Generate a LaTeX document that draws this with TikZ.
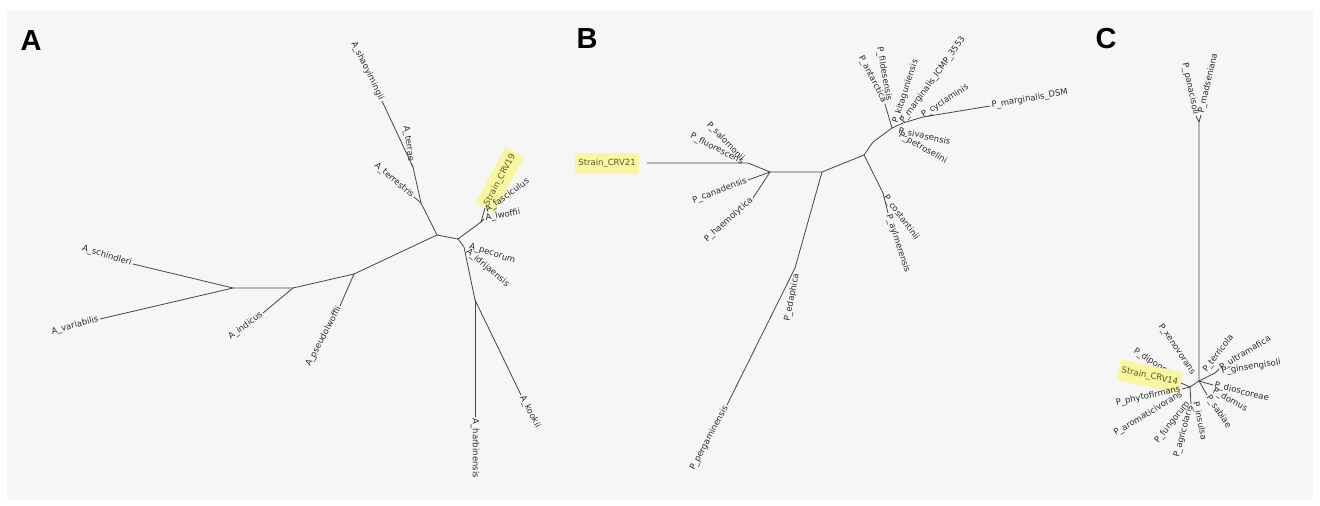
\documentclass[tikz,border=0pt]{standalone}
\usepackage{fontspec}
\setmainfont{DejaVu Sans}
\newfontfamily\panelfont{Liberation Sans}
\usepackage{tikz}
\definecolor{ink}{HTML}{2B2B2B}
\definecolor{branchc}{HTML}{454545}
\definecolor{softbg}{HTML}{F6F6F6}
\definecolor{hilite}{HTML}{F8F6A0}
\definecolor{olive}{HTML}{5C5A22}
\usetikzlibrary{positioning}
\tikzset{
  every picture/.style={line cap=round, line join=round},
  branch/.style={line width=0.8pt, draw=branchc},
  leaf/.style={font=\fontsize{8.5}{9}\selectfont, text=ink, inner sep=1.5pt},
  strain/.style={leaf, fill=hilite, text=olive, minimum height=21pt, inner xsep=3pt},
  panel/.style={font=\panelfont\bfseries\fontsize{29}{30}\selectfont, text=black, inner sep=0pt}
}

\begin{document}
\begin{tikzpicture}[x=1pt, y=-1pt]
  \useasboundingbox (0,0) rectangle (1320,506);
  \fill[softbg] (7,10) rectangle (1313,500);

  % Panel letters
  \node[panel] (pA) at (31,41) {A};
  \node[panel] (pB) at (587,39) {B};
  \node[panel] (pC) at (1106,39) {C};

  % Panel A: junctions
  \coordinate (aJ1) at (437,235);
  \coordinate (aJ2) at (458,239);
  \coordinate (aJ3) at (464,247);
  \coordinate (aJ4) at (475,300);
  \coordinate (aJ5) at (233,288);
  \coordinate (aJ6) at (293,288);
  \coordinate (aJ7) at (354,274);
  \coordinate (aJ8) at (421,203);
  \coordinate (aJ9) at (413,167);
  \coordinate (aJ10) at (481,222);
  % Panel A: tips
  \coordinate (tSchind) at (133,264);
  \coordinate (tVar) at (100,319);
  \coordinate (tInd) at (263,313);
  \coordinate (tPseudo) at (340,306);
  \coordinate (tShao) at (382,101);
  \coordinate (tTerrae) at (411,163);
  \coordinate (tTerrest) at (414,197);
  \coordinate (tCRV19) at (485,208);
  \coordinate (tFasc) at (485,212);
  \coordinate (tLwof) at (484,219);
  \coordinate (tPec) at (468,246);
  \coordinate (tIdr) at (466,250);
  \coordinate (tHarb) at (475,417);
  \coordinate (tKook) at (521,395);

  \draw[branch] (tSchind) -- (aJ5) -- (tVar);
  \draw[branch] (aJ5) -- (aJ6) -- (aJ7) -- (aJ1) -- (aJ2) -- (aJ3) -- (aJ4);
  \draw[branch] (aJ6) -- (tInd);
  \draw[branch] (aJ7) -- (tPseudo);
  \draw[branch] (aJ1) -- (aJ8) -- (aJ9) -- (tShao);
  \draw[branch] (aJ8) -- (tTerrest);
  \draw[branch] (aJ9) -- (tTerrae);
  \draw[branch] (aJ2) -- (aJ10) -- (tCRV19);
  \draw[branch] (aJ10) -- (tLwof);
  \draw[branch] (aJ4) -- (tHarb);
  \draw[branch] (aJ4) -- (tKook);

  \node[leaf, rotate=-17, anchor=east] (lSchind) at (tSchind) {A\_schindleri};
  \node[leaf, rotate=15, anchor=east] (lVar) at (tVar) {A\_variabilis};
  \node[leaf, rotate=37, anchor=east] (lInd) at (tInd) {A\_indicus};
  \node[leaf, rotate=62, anchor=east] (lPseudo) at (tPseudo) {A\_pseudolwoffii};
  \node[leaf, rotate=-64, anchor=east] (lShao) at (tShao) {A\_shaoyimingii};
  \node[leaf, rotate=-82, anchor=east] (lTerrae) at (tTerrae) {A\_terrae};
  \node[leaf, rotate=-40, anchor=east] (lTerrest) at (tTerrest) {A\_terrestris};
  \node[strain, rotate=62, anchor=west] (lCRV19) at (tCRV19) {Strain\_CRV19};
  \node[leaf, rotate=36, anchor=west] (lFasc) at (tFasc) {A\_fasciculus};
  \node[leaf, rotate=11, anchor=west] (lLwof) at (tLwof) {A\_lwoffii};
  \node[leaf, rotate=-18, anchor=west] (lPec) at (tPec) {A\_pecorum};
  \node[leaf, rotate=-40, anchor=west] (lIdr) at (tIdr) {A\_idrijaensis};
  \node[leaf, rotate=-90, anchor=west] (lHarb) at (tHarb) {A\_harbinensis};
  \node[leaf, rotate=-62, anchor=west] (lKook) at (tKook) {A\_kookii};

  % Panel B: junctions
  \coordinate (bJ0) at (748,163);
  \coordinate (bJ1) at (770,172);
  \coordinate (bJ2) at (822,172);
  \coordinate (bJ3) at (864,155);
  \coordinate (bJbend) at (873,142);
  \coordinate (bJ4) at (892,128);
  \coordinate (bJ5) at (795,268);
  \coordinate (bJ6) at (883,193);
  \coordinate (bJ7) at (903,123);
  \coordinate (bJ8) at (923,117);
  % Panel B: tips
  \coordinate (tCRV21) at (647,163);
  \coordinate (tSalo) at (744,161);
  \coordinate (tFluo) at (744,163);
  \coordinate (tCana) at (748,180);
  \coordinate (tHaem) at (753,198);
  \coordinate (tEda) at (797,272);
  \coordinate (tPerg) at (727,405);
  \coordinate (tCost) at (884,195);
  \coordinate (tAylm) at (888,213);
  \coordinate (tAnt) at (885,104);
  \coordinate (tFild) at (889,102);
  \coordinate (tKita) at (895,124);
  \coordinate (tICMP) at (901,124);
  \coordinate (tCycl) at (921,117);
  \coordinate (tDSM) at (990,106);
  \coordinate (tSiva) at (897,131);
  \coordinate (tPetr) at (898,134);

  \draw[branch] (tCRV21) -- (bJ0) -- (bJ1) -- (bJ2) -- (bJ3) -- (bJbend) -- (bJ4);
  \draw[branch] (bJ1) -- (tCana);
  \draw[branch] (bJ1) -- (tHaem);
  \draw[branch] (bJ2) -- (bJ5) -- (tPerg);
  \draw[branch] (bJ3) -- (bJ6) -- (tAylm);
  \draw[branch] (bJ4) -- (tAnt);
  \draw[branch] (bJ4) -- (bJ7) -- (bJ8) -- (tDSM);

  \node[strain, anchor=east, xshift=-8pt] (lCRV21) at (tCRV21) {Strain\_CRV21};
  \node[leaf, rotate=-46, anchor=east] (lSalo) at (tSalo) {P\_salomonii};
  \node[leaf, rotate=-27, anchor=east] (lFluo) at (tFluo) {P\_fluorescens};
  \node[leaf, rotate=21, anchor=east] (lCana) at (tCana) {P\_canadensis};
  \node[leaf, rotate=42, anchor=east] (lHaem) at (tHaem) {P\_haemolytica};
  \node[leaf, rotate=79, anchor=east] (lEda) at (tEda) {P\_edaphica};
  \node[leaf, rotate=62, anchor=east] (lPerg) at (tPerg) {P\_pergaminensis};
  \node[leaf, rotate=-53, anchor=west] (lCost) at (tCost) {P\_costantinii};
  \node[leaf, rotate=-72, anchor=west] (lAylm) at (tAylm) {P\_aylmerensis};
  \node[leaf, rotate=-63, anchor=east] (lAnt) at (tAnt) {P\_antarctica};
  \node[leaf, rotate=-80, anchor=east] (lFild) at (tFild) {P\_fildesensis};
  \node[leaf, rotate=72, anchor=west] (lKita) at (tKita) {P\_kitaguniensis};
  \node[leaf, rotate=54, anchor=west] (lICMP) at (tICMP) {P\_marginalis\_ICMP\_3553};
  \node[leaf, rotate=33, anchor=west] (lCycl) at (tCycl) {P\_cyclaminis};
  \node[leaf, rotate=10, anchor=west] (lDSM) at (tDSM) {P\_marginalis\_DSM};
  \node[leaf, rotate=-12, anchor=west] (lSiva) at (tSiva) {P\_sivasensis};
  \node[leaf, rotate=-30, anchor=west] (lPetr) at (tPetr) {P\_petroselini};

  % Panel C: junctions
  \coordinate (cJ0) at (1199,381);
  \coordinate (cTop) at (1199,122);
  \coordinate (cJR) at (1215,373);
  \coordinate (cJL) at (1190,387);
  % Panel C: tips
  \coordinate (tPana) at (1196,116);
  \coordinate (tMads) at (1201,115);
  \coordinate (tUltra) at (1219,369);
  \coordinate (tGins) at (1220,372);
  \coordinate (tTerr) at (1204,373);
  \coordinate (tDios) at (1213,385);
  \coordinate (tDomus) at (1212,390);
  \coordinate (tSab) at (1207,395);
  \coordinate (tIns) at (1195,400);
  \coordinate (tXeno) at (1194,375);
  \coordinate (tDipo) at (1178,379);
  \coordinate (tCRV14) at (1181,383);
  \coordinate (tPhyt) at (1182,389);
  \coordinate (tArom) at (1183,393);
  \coordinate (tFung) at (1189,401);
  \coordinate (tAgri) at (1191,404);

  \draw[branch] (cJ0) -- (cTop) -- (tPana);
  \draw[branch] (cTop) -- (tMads);
  \draw[branch] (cJ0) -- (cJR) -- (tUltra);
  \draw[branch] (cJ0) -- (tDios);
  \draw[branch] (cJ0) -- (tSab);
  \draw[branch] (cJ0) -- (cJL) -- (tCRV14);
  \draw[branch] (cJL) -- (tPhyt);
  \draw[branch] (cJL) -- (tAgri);

  \node[leaf, rotate=-78, anchor=east] (lPana) at (tPana) {P\_panacisoli};
  \node[leaf, rotate=77, anchor=west] (lMads) at (tMads) {P\_madseniana};
  \node[leaf, rotate=-56, anchor=east] (lXeno) at (tXeno) {P\_xenovorans};
  \node[leaf, rotate=-33, anchor=east] (lDipo) at (tDipo) {P\_dipogonis};
  \node[strain, rotate=-12, anchor=east] (lCRV14) at (tCRV14) {Strain\_CRV14};
  \node[leaf, rotate=12, anchor=east] (lPhyt) at (tPhyt) {P\_phytofirmans};
  \node[leaf, rotate=31, anchor=east] (lArom) at (tArom) {P\_aromaticivorans};
  \node[leaf, rotate=52, anchor=east] (lFung) at (tFung) {P\_fungorum};
  \node[leaf, rotate=75, anchor=east] (lAgri) at (tAgri) {P\_agricolaris};
  \node[leaf, rotate=-78, anchor=west] (lIns) at (tIns) {P\_insulsa};
  \node[leaf, rotate=-56, anchor=west] (lSab) at (tSab) {P\_sabiae};
  \node[leaf, rotate=-30, anchor=west] (lDomus) at (tDomus) {P\_domus};
  \node[leaf, rotate=-14, anchor=west] (lDios) at (tDios) {P\_dioscoreae};
  \node[leaf, rotate=9, anchor=west] (lGins) at (tGins) {P\_ginsengisoli};
  \node[leaf, rotate=31, anchor=west] (lUltra) at (tUltra) {P\_ultramafica};
  \node[leaf, rotate=53, anchor=west] (lTerr) at (tTerr) {P\_terricola};
\end{tikzpicture}
\end{document}
